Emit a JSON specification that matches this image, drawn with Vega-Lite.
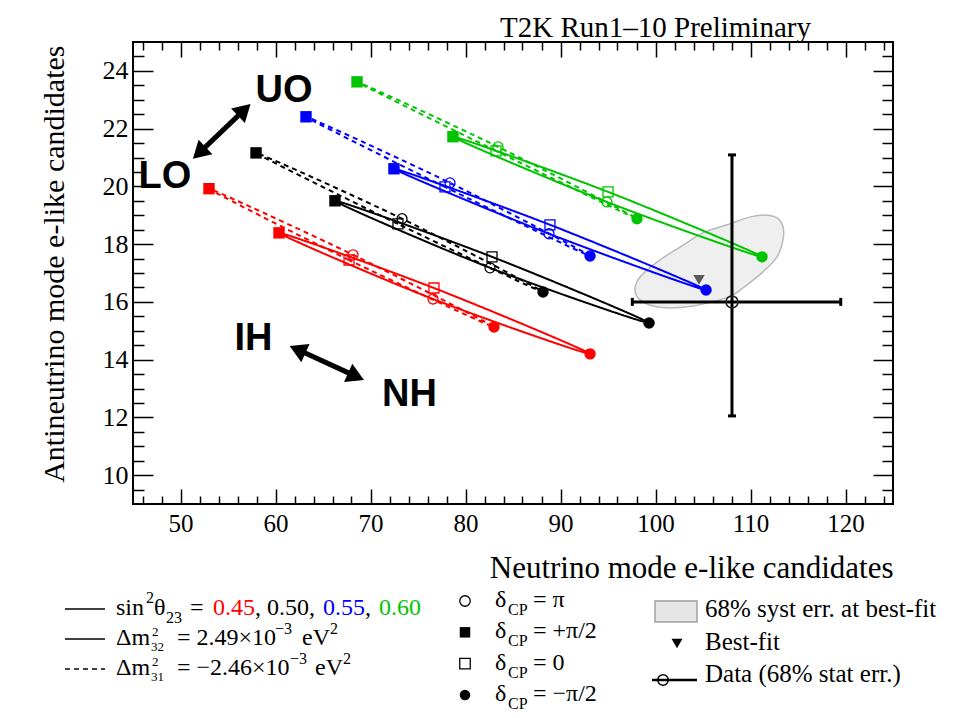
{
 "$schema": "https://vega.github.io/schema/vega-lite/v6.json",
 "width": 760,
 "height": 462,
 "autosize": {"type": "none"},
 "padding": {"left": 133, "top": 42, "right": 61, "bottom": 214},
 "background": "#ffffff",
 "title": {"text": "T2K Run1–10 Preliminary", "anchor": "start", "frame": "group", "dx": 367, "dy": 31, "offset": 6, "baseline": "alphabetic", "font": "Liberation Serif", "fontSize": 29, "fontWeight": "normal", "color": "#000000"},
 "config": {
  "view": {"stroke": "#000000", "strokeWidth": 2},
  "legend": {"disable": true},
  "axis": {"domain": false, "grid": false, "tickColor": "#000000", "tickWidth": 1.5, "labelFont": "Liberation Serif", "labelColor": "#000000", "labelFlush": false, "labelOverlap": false, "titleFont": "Liberation Serif", "titleFontWeight": "normal", "titleColor": "#000000"}
 },
 "datasets": {
  "dummy": [{"x": 100, "y": 16}],
  "curves": [
   {"s2":"0.45","h":"NH","d":"m2","k":0,"x":93.11,"y":14.20},
   {"s2":"0.45","h":"NH","d":"0","k":1,"x":76.68,"y":16.48},
   {"s2":"0.45","h":"NH","d":"p2","k":2,"x":60.37,"y":18.39},
   {"s2":"0.45","h":"NH","d":"pi","k":3,"x":76.58,"y":16.10},
   {"s2":"0.45","h":"IH","d":"m2","k":0,"x":83.00,"y":15.13},
   {"s2":"0.45","h":"IH","d":"0","k":1,"x":67.74,"y":17.45},
   {"s2":"0.45","h":"IH","d":"p2","k":2,"x":53.00,"y":19.92},
   {"s2":"0.45","h":"IH","d":"pi","k":3,"x":68.16,"y":17.63},
   {"s2":"0.50","h":"NH","d":"m2","k":0,"x":99.32,"y":15.27},
   {"s2":"0.50","h":"NH","d":"0","k":1,"x":82.79,"y":17.56},
   {"s2":"0.50","h":"NH","d":"p2","k":2,"x":66.26,"y":19.50},
   {"s2":"0.50","h":"NH","d":"pi","k":3,"x":82.58,"y":17.18},
   {"s2":"0.50","h":"IH","d":"m2","k":0,"x":88.16,"y":16.34},
   {"s2":"0.50","h":"IH","d":"0","k":1,"x":72.89,"y":18.70},
   {"s2":"0.50","h":"IH","d":"p2","k":2,"x":57.95,"y":21.16},
   {"s2":"0.50","h":"IH","d":"pi","k":3,"x":73.32,"y":18.88},
   {"s2":"0.55","h":"NH","d":"m2","k":0,"x":105.32,"y":16.41},
   {"s2":"0.55","h":"NH","d":"0","k":1,"x":88.89,"y":18.67},
   {"s2":"0.55","h":"NH","d":"p2","k":2,"x":72.47,"y":20.61},
   {"s2":"0.55","h":"NH","d":"pi","k":3,"x":88.79,"y":18.36},
   {"s2":"0.55","h":"IH","d":"m2","k":0,"x":93.11,"y":17.59},
   {"s2":"0.55","h":"IH","d":"0","k":1,"x":77.84,"y":19.98},
   {"s2":"0.55","h":"IH","d":"p2","k":2,"x":63.21,"y":22.41},
   {"s2":"0.55","h":"IH","d":"pi","k":3,"x":78.37,"y":20.12},
   {"s2":"0.60","h":"NH","d":"m2","k":0,"x":111.21,"y":17.56},
   {"s2":"0.60","h":"NH","d":"0","k":1,"x":95.00,"y":19.81},
   {"s2":"0.60","h":"NH","d":"p2","k":2,"x":78.68,"y":21.72},
   {"s2":"0.60","h":"NH","d":"pi","k":3,"x":94.89,"y":19.46},
   {"s2":"0.60","h":"IH","d":"m2","k":0,"x":98.05,"y":18.88},
   {"s2":"0.60","h":"IH","d":"0","k":1,"x":83.21,"y":21.23},
   {"s2":"0.60","h":"IH","d":"p2","k":2,"x":68.58,"y":23.62},
   {"s2":"0.60","h":"IH","d":"pi","k":3,"x":83.42,"y":21.37}
  ],
  "blob": [
   {"k":0,"x":97.84,"y":16.41},{"k":1,"x":98.37,"y":16.07},{"k":2,"x":99.74,"y":15.86},{"k":3,"x":101.53,"y":15.79},
   {"k":4,"x":103.95,"y":15.86},{"k":5,"x":106.79,"y":16.07},{"k":6,"x":108.16,"y":16.24},{"k":7,"x":109.63,"y":16.59},
   {"k":8,"x":111.32,"y":17.04},{"k":9,"x":112.79,"y":17.56},{"k":10,"x":113.42,"y":18.15},{"k":11,"x":113.42,"y":18.60},
   {"k":12,"x":112.79,"y":18.91},{"k":13,"x":111.32,"y":19.01},{"k":14,"x":109.63,"y":18.91},{"k":15,"x":107.53,"y":18.67},
   {"k":16,"x":105.0,"y":18.39},{"k":17,"x":102.58,"y":17.90},{"k":18,"x":100.16,"y":17.38},{"k":19,"x":98.37,"y":16.86}
  ],
  "obs": [{"x":108.05,"y":16.0,"xlo":97.56,"xhi":119.5,"ylo":12.05,"yhi":21.09}],
  "bf": [{"x":104.58,"y":16.76}],
  "ann": [
   {"t":"UO","x":60.9,"y":22.93},
   {"t":"LO","x":48.37,"y":19.95},
   {"t":"IH","x":57.68,"y":14.33},
   {"t":"NH","x":74.1,"y":12.39}
  ],
  "arrows": [
   {"a":"oct","x1":51.97,"y1":21.16,"x2":56.71,"y2":22.65},
   {"a":"mh","x1":62.32,"y1":14.35,"x2":68.48,"y2":13.42}
  ],
  "leg": [
   {"id":"line","row":1,"h":"NH"},{"id":"line","row":2,"h":"NH"},{"id":"line","row":3,"h":"IH"},
   {"id":"A","row":1,"t":"sin"},{"id":"A","row":2,"t":"Δm"},{"id":"A","row":3,"t":"Δm"},
   {"id":"B","row":1,"t":"2"},
   {"id":"C","row":1,"t":"θ"},
   {"id":"D","row":1,"t":"23"},
   {"id":"E","row":1,"t":"="},
   {"id":"F","row":1,"t":"0.45","s2":"0.45"},
   {"id":"G","row":1,"t":", 0.50,"},
   {"id":"H","row":1,"t":"0.55","s2":"0.55"},
   {"id":"I","row":1,"t":","},
   {"id":"J","row":1,"t":"0.60","s2":"0.60"},
   {"id":"K","row":2,"t":"2"},{"id":"K","row":3,"t":"2"},
   {"id":"L","row":2,"t":"32"},{"id":"L","row":3,"t":"31"},
   {"id":"M","row":2,"t":"= 2.49×10"},{"id":"M","row":3,"t":"= −2.46×10"},
   {"id":"N2","row":2,"t":"−3"},{"id":"N3","row":3,"t":"−3"},
   {"id":"O2","row":2,"t":"eV"},{"id":"O3","row":3,"t":"eV"},
   {"id":"P2","row":2,"t":"2"},{"id":"P3","row":3,"t":"2"}
  ],
  "dcp": [
   {"row":1,"d":"pi","t":"= π"},
   {"row":2,"d":"p2","t":"= +π/2"},
   {"row":3,"d":"0","t":"= 0"},
   {"row":4,"d":"m2","t":"= −π/2"}
  ],
  "extra": [
   {"row":1,"item":"syst","t":"68% syst err. at best-fit"},
   {"row":2,"item":"bf","t":"Best-fit"},
   {"row":3,"item":"data","t":"Data (68% stat err.)"}
  ]
 },
 "layer": [
  {
   "encoding": {
    "x": {"field":"x","type":"quantitative","scale":{"domain":[45,125],"nice":false,"zero":false},"axis":null},
    "y": {"field":"y","type":"quantitative","scale":{"domain":[9,25],"nice":false,"zero":false},"axis":null}
   },
   "layer": [
    {"data":{"name":"dummy"},"mark":{"type":"point","opacity":0},
     "encoding":{
      "x":{"field":"x","type":"quantitative","scale":{"domain":[45,125],"nice":false,"zero":false},
           "axis":{"orient":"bottom","values":[50,60,70,80,90,100,110,120],"tickSize":-15,"labelPadding":22,"labelFontSize":25,
                   "title":"Neutrino mode e-like candidates","titleFontSize":31,"titleX":760,"titleY":73,"titleAlign":"right","titleBaseline":"alphabetic","titleAnchor":"end"}},
      "y":{"field":"y","type":"quantitative","scale":{"domain":[9,25],"nice":false,"zero":false},
           "axis":{"orient":"left","values":[10,12,14,16,18,20,22,24],"tickSize":-20,"labelPadding":25,"labelFontSize":26,
                   "title":"Antineutrino mode e-like candidates","titleFontSize":30,"titleX":-70,"titleY":3,"titleAngle":270,"titleAlign":"right","titleBaseline":"alphabetic","titleAnchor":"end"}}
     }},
    {"data":{"name":"dummy"},"mark":{"type":"point","opacity":0},
     "encoding":{
      "x":{"field":"x","type":"quantitative","scale":{"domain":[45,125],"nice":false,"zero":false},
           "axis":{"orient":"bottom","values":[46,48,52,54,56,58,62,64,66,68,72,74,76,78,82,84,86,88,92,94,96,98,102,104,106,108,112,114,116,118,122,124],"tickSize":-8,"labels":false,"title":null}},
      "y":{"field":"y","type":"quantitative","scale":{"domain":[9,25],"nice":false,"zero":false},
           "axis":{"orient":"left","values":[9.5,10.5,11,11.5,12.5,13,13.5,14.5,15,15.5,16.5,17,17.5,18.5,19,19.5,20.5,21,21.5,22.5,23,23.5,24.5],"tickSize":-11,"labels":false,"title":null}}
     }},
    {"data":{"name":"dummy"},"mark":{"type":"point","opacity":0},
     "encoding":{
      "x":{"field":"x","type":"quantitative","scale":{"domain":[45,125],"nice":false,"zero":false},
           "axis":{"orient":"top","values":[50,60,70,80,90,100,110,120],"tickSize":-15,"labels":false,"title":null}},
      "y":{"field":"y","type":"quantitative","scale":{"domain":[9,25],"nice":false,"zero":false},
           "axis":{"orient":"right","values":[10,12,14,16,18,20,22,24],"tickSize":-20,"labels":false,"title":null}}
     }},
    {"data":{"name":"dummy"},"mark":{"type":"point","opacity":0},
     "encoding":{
      "x":{"field":"x","type":"quantitative","scale":{"domain":[45,125],"nice":false,"zero":false},
           "axis":{"orient":"top","values":[46,48,52,54,56,58,62,64,66,68,72,74,76,78,82,84,86,88,92,94,96,98,102,104,106,108,112,114,116,118,122,124],"tickSize":-8,"labels":false,"title":null}},
      "y":{"field":"y","type":"quantitative","scale":{"domain":[9,25],"nice":false,"zero":false},
           "axis":{"orient":"right","values":[9.5,10.5,11,11.5,12.5,13,13.5,14.5,15,15.5,16.5,17,17.5,18.5,19,19.5,20.5,21,21.5,22.5,23,23.5,24.5],"tickSize":-11,"labels":false,"title":null}}
     }},
    {"data":{"name":"blob"},
     "mark":{"type":"line","interpolate":"cardinal-closed","fill":"#efefef","stroke":"#b9b9b9","strokeWidth":1.5},
     "encoding":{"order":{"field":"k","type":"quantitative"}}},
    {"data":{"name":"curves"},
     "mark":{"type":"line","interpolate":"cardinal-closed","strokeWidth":2},
     "encoding":{
      "order":{"field":"k","type":"quantitative"},
      "color":{"field":"s2","type":"nominal","scale":{"domain":["0.45","0.50","0.55","0.60"],"range":["#ff0000","#000000","#0000ff","#00c400"]}},
      "strokeDash":{"field":"h","type":"nominal","scale":{"domain":["NH","IH"],"range":[[1,0],[5,4]]}}
     }},
    {"data":{"name":"curves"},"transform":[{"filter":{"field":"d","oneOf":["0","pi"]}}],
     "mark":{"type":"point","filled":false,"size":100,"strokeWidth":1.3,"opacity":1},
     "encoding":{
      "shape":{"field":"d","type":"nominal","scale":{"domain":["pi","p2","0","m2"],"range":["circle","square","square","circle"]}},
      "color":{"field":"s2","type":"nominal","scale":{"domain":["0.45","0.50","0.55","0.60"],"range":["#ff0000","#000000","#0000ff","#00c400"]}}
     }},
    {"data":{"name":"curves"},"transform":[{"filter":{"field":"d","oneOf":["p2","m2"]}}],
     "mark":{"type":"point","filled":true,"size":130,"opacity":1},
     "encoding":{
      "shape":{"field":"d","type":"nominal","scale":{"domain":["pi","p2","0","m2"],"range":["circle","square","square","circle"]}},
      "color":{"field":"s2","type":"nominal","scale":{"domain":["0.45","0.50","0.55","0.60"],"range":["#ff0000","#000000","#0000ff","#00c400"]}}
     }},
    {"data":{"name":"obs"},"mark":{"type":"rule","strokeWidth":3,"color":"#000000"},
     "encoding":{
      "x":{"field":"xlo","type":"quantitative","scale":{"domain":[45,125],"nice":false,"zero":false},"axis":null},
      "x2":{"field":"xhi"}
     }},
    {"data":{"name":"obs"},"mark":{"type":"rule","strokeWidth":3,"color":"#000000"},
     "encoding":{
      "y":{"field":"ylo","type":"quantitative","scale":{"domain":[9,25],"nice":false,"zero":false},"axis":null},
      "y2":{"field":"yhi"}
     }},
    {"data":{"name":"obs"},"mark":{"type":"tick","orient":"vertical","size":8,"thickness":3,"color":"#000000","opacity":1},
     "encoding":{"x":{"field":"xlo","type":"quantitative","scale":{"domain":[45,125],"nice":false,"zero":false},"axis":null}}},
    {"data":{"name":"obs"},"mark":{"type":"tick","orient":"vertical","size":8,"thickness":3,"color":"#000000","opacity":1},
     "encoding":{"x":{"field":"xhi","type":"quantitative","scale":{"domain":[45,125],"nice":false,"zero":false},"axis":null}}},
    {"data":{"name":"obs"},"mark":{"type":"tick","orient":"horizontal","size":8,"thickness":3,"color":"#000000","opacity":1},
     "encoding":{"y":{"field":"ylo","type":"quantitative","scale":{"domain":[9,25],"nice":false,"zero":false},"axis":null}}},
    {"data":{"name":"obs"},"mark":{"type":"tick","orient":"horizontal","size":8,"thickness":3,"color":"#000000","opacity":1},
     "encoding":{"y":{"field":"yhi","type":"quantitative","scale":{"domain":[9,25],"nice":false,"zero":false},"axis":null}}},
    {"data":{"name":"obs"},"mark":{"type":"point","shape":"circle","filled":false,"size":144,"strokeWidth":1.5,"color":"#222222","opacity":1}},
    {"data":{"name":"bf"},"mark":{"type":"point","shape":"triangle-down","filled":true,"size":130,"color":"#5a5a5a","opacity":1}},
    {"data":{"name":"ann"},"mark":{"type":"text","font":"Liberation Sans","fontWeight":"bold","fontSize":38,"align":"center","baseline":"alphabetic","color":"#000000"},
     "encoding":{"text":{"field":"t"}}},
    {"data":{"name":"arrows"},"mark":{"type":"rule","strokeWidth":5,"color":"#000000"},
     "encoding":{
      "x":{"field":"x1","type":"quantitative","scale":{"domain":[45,125],"nice":false,"zero":false},"axis":null},
      "y":{"field":"y1","type":"quantitative","scale":{"domain":[9,25],"nice":false,"zero":false},"axis":null},
      "x2":{"field":"x2"},"y2":{"field":"y2"}
     }},
    {"data":{"name":"arrows"},"transform":[{"filter":"datum.a==='oct'"}],
     "mark":{"type":"point","shape":"triangle-up","angle":46.5,"size":400,"filled":true,"color":"#000000","opacity":1},
     "encoding":{
      "x":{"field":"x2","type":"quantitative","scale":{"domain":[45,125],"nice":false,"zero":false},"axis":null},
      "y":{"field":"y2","type":"quantitative","scale":{"domain":[9,25],"nice":false,"zero":false},"axis":null}
     }},
    {"data":{"name":"arrows"},"transform":[{"filter":"datum.a==='oct'"}],
     "mark":{"type":"point","shape":"triangle-up","angle":226.5,"size":400,"filled":true,"color":"#000000","opacity":1},
     "encoding":{
      "x":{"field":"x1","type":"quantitative","scale":{"domain":[45,125],"nice":false,"zero":false},"axis":null},
      "y":{"field":"y1","type":"quantitative","scale":{"domain":[9,25],"nice":false,"zero":false},"axis":null}
     }},
    {"data":{"name":"arrows"},"transform":[{"filter":"datum.a==='mh'"}],
     "mark":{"type":"point","shape":"triangle-up","angle":114.4,"size":400,"filled":true,"color":"#000000","opacity":1},
     "encoding":{
      "x":{"field":"x2","type":"quantitative","scale":{"domain":[45,125],"nice":false,"zero":false},"axis":null},
      "y":{"field":"y2","type":"quantitative","scale":{"domain":[9,25],"nice":false,"zero":false},"axis":null}
     }},
    {"data":{"name":"arrows"},"transform":[{"filter":"datum.a==='mh'"}],
     "mark":{"type":"point","shape":"triangle-up","angle":294.4,"size":400,"filled":true,"color":"#000000","opacity":1},
     "encoding":{
      "x":{"field":"x1","type":"quantitative","scale":{"domain":[45,125],"nice":false,"zero":false},"axis":null},
      "y":{"field":"y1","type":"quantitative","scale":{"domain":[9,25],"nice":false,"zero":false},"axis":null}
     }}
   ],
   "resolve": {"axis": {"x": "independent", "y": "independent"}}
  },
  {
   "data": {"name": "leg"},
   "encoding": {"y": {"field":"row","type":"quantitative","scale":{"domain":[1,3],"range":[567,627],"nice":false,"zero":false},"axis":null}},
   "layer": [
    {"transform":[{"filter":"datum.id==='line'"}],"mark":{"type":"point","shape":"stroke","size":1600,"strokeWidth":1.5,"color":"#000000","filled":false,"opacity":1},
     "encoding":{"x":{"value":-48},"strokeDash":{"field":"h","type":"nominal","scale":{"domain":["NH","IH"],"range":[[1,0],[5,4]]}}}},
    {"transform":[{"filter":"datum.id==='A'"}],"mark":{"type":"text","font":"Liberation Serif","fontSize":24,"align":"left","baseline":"alphabetic","dy":6,"color":"#000000"},"encoding":{"x":{"value":-17},"text":{"field":"t"}}},
    {"transform":[{"filter":"datum.id==='B'"}],"mark":{"type":"text","font":"Liberation Serif","fontSize":16,"align":"left","baseline":"alphabetic","dy":-6,"color":"#000000"},"encoding":{"x":{"value":13},"text":{"field":"t"}}},
    {"transform":[{"filter":"datum.id==='C'"}],"mark":{"type":"text","font":"Liberation Serif","fontSize":24,"align":"left","baseline":"alphabetic","dy":6,"color":"#000000"},"encoding":{"x":{"value":21},"text":{"field":"t"}}},
    {"transform":[{"filter":"datum.id==='D'"}],"mark":{"type":"text","font":"Liberation Serif","fontSize":16,"align":"left","baseline":"alphabetic","dy":14,"color":"#000000"},"encoding":{"x":{"value":33},"text":{"field":"t"}}},
    {"transform":[{"filter":"datum.id==='E'"}],"mark":{"type":"text","font":"Liberation Serif","fontSize":24,"align":"left","baseline":"alphabetic","dy":6,"color":"#000000"},"encoding":{"x":{"value":57},"text":{"field":"t"}}},
    {"transform":[{"filter":"datum.id==='F'"}],"mark":{"type":"text","font":"Liberation Serif","fontSize":24,"align":"left","baseline":"alphabetic","dy":6},"encoding":{"x":{"value":80},"text":{"field":"t"},"color":{"field":"s2","type":"nominal","scale":{"domain":["0.45","0.50","0.55","0.60"],"range":["#ff0000","#000000","#0000ff","#00c400"]}}}},
    {"transform":[{"filter":"datum.id==='G'"}],"mark":{"type":"text","font":"Liberation Serif","fontSize":24,"align":"left","baseline":"alphabetic","dy":6,"color":"#000000"},"encoding":{"x":{"value":122},"text":{"field":"t"}}},
    {"transform":[{"filter":"datum.id==='H'"}],"mark":{"type":"text","font":"Liberation Serif","fontSize":24,"align":"left","baseline":"alphabetic","dy":6},"encoding":{"x":{"value":190},"text":{"field":"t"},"color":{"field":"s2","type":"nominal","scale":{"domain":["0.45","0.50","0.55","0.60"],"range":["#ff0000","#000000","#0000ff","#00c400"]}}}},
    {"transform":[{"filter":"datum.id==='I'"}],"mark":{"type":"text","font":"Liberation Serif","fontSize":24,"align":"left","baseline":"alphabetic","dy":6,"color":"#000000"},"encoding":{"x":{"value":232},"text":{"field":"t"}}},
    {"transform":[{"filter":"datum.id==='J'"}],"mark":{"type":"text","font":"Liberation Serif","fontSize":24,"align":"left","baseline":"alphabetic","dy":6},"encoding":{"x":{"value":246},"text":{"field":"t"},"color":{"field":"s2","type":"nominal","scale":{"domain":["0.45","0.50","0.55","0.60"],"range":["#ff0000","#000000","#0000ff","#00c400"]}}}},
    {"transform":[{"filter":"datum.id==='K'"}],"mark":{"type":"text","font":"Liberation Serif","fontSize":13,"align":"left","baseline":"alphabetic","dy":-3,"color":"#000000"},"encoding":{"x":{"value":19},"text":{"field":"t"}}},
    {"transform":[{"filter":"datum.id==='L'"}],"mark":{"type":"text","font":"Liberation Serif","fontSize":13,"align":"left","baseline":"alphabetic","dy":12,"color":"#000000"},"encoding":{"x":{"value":18},"text":{"field":"t"}}},
    {"transform":[{"filter":"datum.id==='M'"}],"mark":{"type":"text","font":"Liberation Serif","fontSize":24,"align":"left","baseline":"alphabetic","dy":6,"color":"#000000"},"encoding":{"x":{"value":44},"text":{"field":"t"}}},
    {"transform":[{"filter":"datum.id==='N2'"}],"mark":{"type":"text","font":"Liberation Serif","fontSize":16,"align":"left","baseline":"alphabetic","dy":-5,"color":"#000000"},"encoding":{"x":{"value":142},"text":{"field":"t"}}},
    {"transform":[{"filter":"datum.id==='N3'"}],"mark":{"type":"text","font":"Liberation Serif","fontSize":16,"align":"left","baseline":"alphabetic","dy":-5,"color":"#000000"},"encoding":{"x":{"value":157},"text":{"field":"t"}}},
    {"transform":[{"filter":"datum.id==='O2'"}],"mark":{"type":"text","font":"Liberation Serif","fontSize":24,"align":"left","baseline":"alphabetic","dy":6,"color":"#000000"},"encoding":{"x":{"value":169},"text":{"field":"t"}}},
    {"transform":[{"filter":"datum.id==='O3'"}],"mark":{"type":"text","font":"Liberation Serif","fontSize":24,"align":"left","baseline":"alphabetic","dy":6,"color":"#000000"},"encoding":{"x":{"value":182},"text":{"field":"t"}}},
    {"transform":[{"filter":"datum.id==='P2'"}],"mark":{"type":"text","font":"Liberation Serif","fontSize":16,"align":"left","baseline":"alphabetic","dy":-5,"color":"#000000"},"encoding":{"x":{"value":197},"text":{"field":"t"}}},
    {"transform":[{"filter":"datum.id==='P3'"}],"mark":{"type":"text","font":"Liberation Serif","fontSize":16,"align":"left","baseline":"alphabetic","dy":-5,"color":"#000000"},"encoding":{"x":{"value":210},"text":{"field":"t"}}}
   ]
  },
  {
   "data": {"name": "dcp"},
   "encoding": {"y": {"field":"row","type":"quantitative","scale":{"domain":[1,4],"range":[559,653],"nice":false,"zero":false},"axis":null}},
   "layer": [
    {"transform":[{"filter":{"field":"d","oneOf":["0","pi"]}}],"mark":{"type":"point","filled":false,"size":110,"strokeWidth":1.3,"color":"#000000","opacity":1},
     "encoding":{"x":{"value":332},"shape":{"field":"d","type":"nominal","scale":{"domain":["pi","p2","0","m2"],"range":["circle","square","square","circle"]}}}},
    {"transform":[{"filter":{"field":"d","oneOf":["p2","m2"]}}],"mark":{"type":"point","filled":true,"size":110,"color":"#000000","opacity":1},
     "encoding":{"x":{"value":332},"shape":{"field":"d","type":"nominal","scale":{"domain":["pi","p2","0","m2"],"range":["circle","square","square","circle"]}}}},
    {"mark":{"type":"text","font":"Liberation Serif","fontSize":24,"align":"left","baseline":"alphabetic","dy":6,"color":"#000000"},"encoding":{"x":{"value":362},"text":{"value":"δ"}}},
    {"mark":{"type":"text","font":"Liberation Serif","fontSize":16,"align":"left","baseline":"alphabetic","dy":14,"color":"#000000"},"encoding":{"x":{"value":375},"text":{"value":"CP"}}},
    {"mark":{"type":"text","font":"Liberation Serif","fontSize":24,"align":"left","baseline":"alphabetic","dy":6,"color":"#000000"},"encoding":{"x":{"value":400},"text":{"field":"t"}}}
   ]
  },
  {
   "data": {"name": "extra"},
   "encoding": {"y": {"field":"row","type":"quantitative","scale":{"domain":[1,3],"range":[575,640],"nice":false,"zero":false},"axis":null}},
   "layer": [
    {"transform":[{"filter":"datum.item==='syst'"}],"mark":{"type":"point","shape":"M-1,-0.5L1,-0.5L1,0.5L-1,0.5Z","size":1764,"filled":true,"fill":"#e6e6e6","stroke":"#a0a0a0","strokeWidth":1.5,"opacity":1,"yOffset":-5.5},
     "encoding":{"x":{"value":543}}},
    {"transform":[{"filter":"datum.item==='bf'"}],"mark":{"type":"point","shape":"triangle-down","size":120,"filled":true,"color":"#000000","opacity":1,"yOffset":-6},
     "encoding":{"x":{"value":544}}},
    {"transform":[{"filter":"datum.item==='data'"}],"mark":{"type":"point","shape":"stroke","size":2025,"strokeWidth":2.5,"filled":false,"color":"#000000","opacity":1,"yOffset":-2},
     "encoding":{"x":{"value":541.5}}},
    {"transform":[{"filter":"datum.item==='data'"}],"mark":{"type":"point","shape":"circle","size":110,"strokeWidth":1.5,"filled":false,"color":"#000000","opacity":1,"yOffset":-2},
     "encoding":{"x":{"value":530}}},
    {"mark":{"type":"text","font":"Liberation Serif","fontSize":25,"align":"left","baseline":"alphabetic","color":"#000000"},"encoding":{"x":{"value":572},"text":{"field":"t"}}}
   ]
  }
 ],
 "resolve": {"scale": {"y": "independent"}}
}
